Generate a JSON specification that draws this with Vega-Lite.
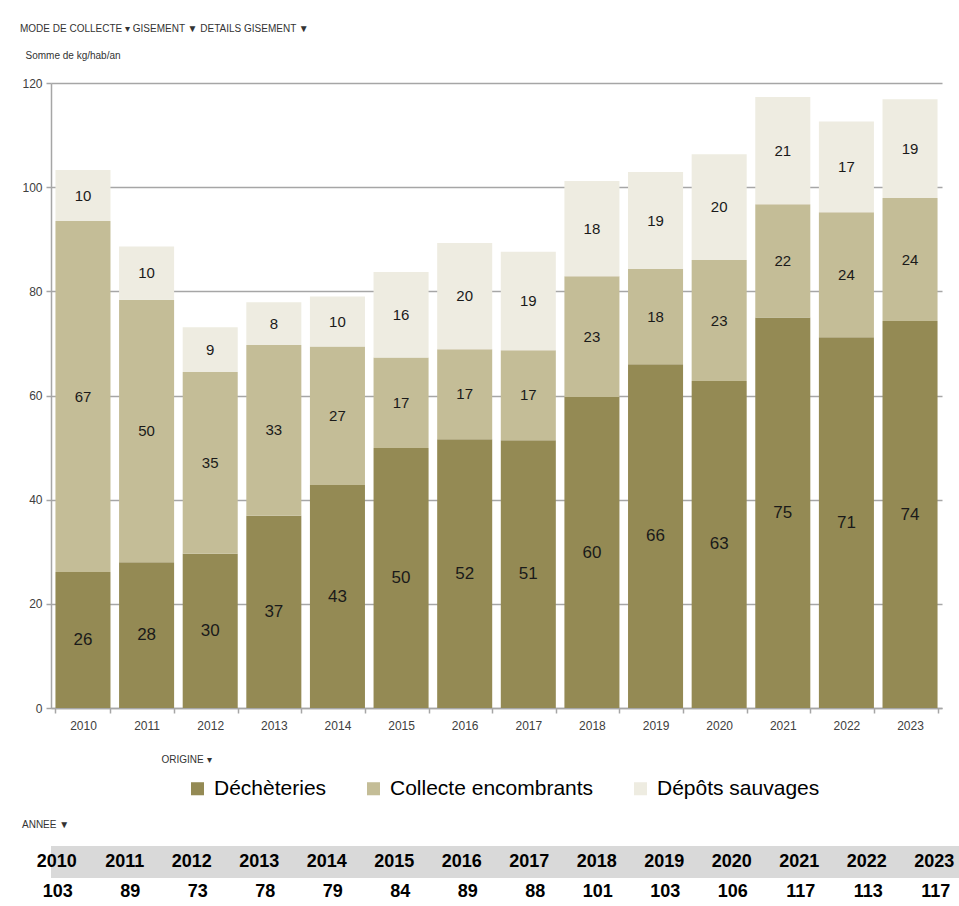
{
  "$schema": "https://vega.github.io/schema/vega-lite/v6.json",
  "padding": {"left": 20, "top": 24, "right": 0, "bottom": 0},
  "background": "white",
  "spacing": 56,
  "config": {
    "font": "Liberation Sans",
    "view": {"stroke": null},
    "title": {"font": "Liberation Sans", "fontWeight": "normal", "color": "#333333"}
  },
  "datasets": {
    "kg": [
      {"annee": "2010", "origine": "Déchèteries", "kg": 26.1},
      {"annee": "2010", "origine": "Collecte encombrants", "kg": 67.4},
      {"annee": "2010", "origine": "Dépôts sauvages", "kg": 9.8},
      {"annee": "2011", "origine": "Déchèteries", "kg": 28.0},
      {"annee": "2011", "origine": "Collecte encombrants", "kg": 50.4},
      {"annee": "2011", "origine": "Dépôts sauvages", "kg": 10.2},
      {"annee": "2012", "origine": "Déchèteries", "kg": 29.6},
      {"annee": "2012", "origine": "Collecte encombrants", "kg": 34.9},
      {"annee": "2012", "origine": "Dépôts sauvages", "kg": 8.6},
      {"annee": "2013", "origine": "Déchèteries", "kg": 36.9},
      {"annee": "2013", "origine": "Collecte encombrants", "kg": 32.8},
      {"annee": "2013", "origine": "Dépôts sauvages", "kg": 8.2},
      {"annee": "2014", "origine": "Déchèteries", "kg": 42.8},
      {"annee": "2014", "origine": "Collecte encombrants", "kg": 26.6},
      {"annee": "2014", "origine": "Dépôts sauvages", "kg": 9.6},
      {"annee": "2015", "origine": "Déchèteries", "kg": 49.9},
      {"annee": "2015", "origine": "Collecte encombrants", "kg": 17.4},
      {"annee": "2015", "origine": "Dépôts sauvages", "kg": 16.4},
      {"annee": "2016", "origine": "Déchèteries", "kg": 51.6},
      {"annee": "2016", "origine": "Collecte encombrants", "kg": 17.3},
      {"annee": "2016", "origine": "Dépôts sauvages", "kg": 20.4},
      {"annee": "2017", "origine": "Déchèteries", "kg": 51.4},
      {"annee": "2017", "origine": "Collecte encombrants", "kg": 17.3},
      {"annee": "2017", "origine": "Dépôts sauvages", "kg": 18.9},
      {"annee": "2018", "origine": "Déchèteries", "kg": 59.7},
      {"annee": "2018", "origine": "Collecte encombrants", "kg": 23.2},
      {"annee": "2018", "origine": "Dépôts sauvages", "kg": 18.3},
      {"annee": "2019", "origine": "Déchèteries", "kg": 66.0},
      {"annee": "2019", "origine": "Collecte encombrants", "kg": 18.3},
      {"annee": "2019", "origine": "Dépôts sauvages", "kg": 18.6},
      {"annee": "2020", "origine": "Déchèteries", "kg": 62.8},
      {"annee": "2020", "origine": "Collecte encombrants", "kg": 23.2},
      {"annee": "2020", "origine": "Dépôts sauvages", "kg": 20.3},
      {"annee": "2021", "origine": "Déchèteries", "kg": 75.0},
      {"annee": "2021", "origine": "Collecte encombrants", "kg": 21.7},
      {"annee": "2021", "origine": "Dépôts sauvages", "kg": 20.6},
      {"annee": "2022", "origine": "Déchèteries", "kg": 71.2},
      {"annee": "2022", "origine": "Collecte encombrants", "kg": 24.0},
      {"annee": "2022", "origine": "Dépôts sauvages", "kg": 17.4},
      {"annee": "2023", "origine": "Déchèteries", "kg": 74.3},
      {"annee": "2023", "origine": "Collecte encombrants", "kg": 23.6},
      {"annee": "2023", "origine": "Dépôts sauvages", "kg": 19.0}
    ],
    "origines": [
      {"origine": "Déchèteries", "rang": 1},
      {"origine": "Collecte encombrants", "rang": 2},
      {"origine": "Dépôts sauvages", "rang": 3}
    ]
  },
  "vconcat": [
    {
      "width": 891,
      "height": 625,
      "title": {"text": "MODE DE COLLECTE  ▾     GISEMENT  ▼    DETAILS GISEMENT  ▼", "anchor": "start", "frame": "group", "fontSize": 10, "dx": -31, "offset": 16},
      "data": {"name": "kg"},
      "transform": [
        {"lookup": "origine", "from": {"data": {"name": "origines"}, "key": "origine", "fields": ["rang"]}},
        {"stack": "kg", "groupby": ["annee"], "sort": [{"field": "rang", "order": "ascending"}], "as": ["bas", "haut"]}
      ],
      "encoding": {
        "x": {
          "field": "annee", "type": "nominal",
          "scale": {"paddingInner": 0.135, "paddingOuter": 0.07},
          "axis": {
            "title": "ORIGINE  ▾", "titleFontSize": 10, "titleFontWeight": "normal", "titleColor": "#333333",
            "titleAnchor": "start", "titleAlign": "left", "titleX": 110, "titleY": 46,
            "labelAngle": 0, "labelFontSize": 12, "labelColor": "#404040", "labelPadding": 7,
            "tickBand": "extent", "tickSize": 5, "tickColor": "#A6A6A6", "tickWidth": 1.5,
            "domainColor": "#A6A6A6", "domainWidth": 1.5
          }
        }
      },
      "layer": [
        {
          "mark": {"type": "bar"},
          "encoding": {
            "y": {
              "field": "bas", "type": "quantitative",
              "scale": {"domain": [0, 120], "nice": false},
              "axis": {
                "values": [0, 20, 40, 60, 80, 100, 120],
                "title": "Somme de kg/hab/an", "titleAngle": 0, "titleAlign": "left", "titleBaseline": "middle",
                "titleX": -26, "titleY": -28, "titleFontSize": 10, "titleFontWeight": "normal", "titleColor": "#333333",
                "labelFontSize": 12, "labelColor": "#404040", "labelPadding": 4,
                "grid": true, "gridColor": "#A6A6A6", "gridWidth": 1.5,
                "tickSize": 5, "tickColor": "#A6A6A6", "tickWidth": 1.5,
                "domainColor": "#A6A6A6", "domainWidth": 1.5
              }
            },
            "y2": {"field": "haut"},
            "color": {
              "field": "origine", "type": "nominal",
              "scale": {
                "domain": ["Déchèteries", "Collecte encombrants", "Dépôts sauvages"],
                "range": ["#948A54", "#C4BD97", "#EEECE1"]
              },
              "legend": {
                "orient": "none", "legendX": 136, "legendY": 695, "direction": "horizontal",
                "title": null, "symbolType": "square", "symbolSize": 170, "symbolStrokeWidth": 0,
                "labelFontSize": 21, "labelColor": "#000000", "labelLimit": 400,
                "columnPadding": 36, "labelOffset": 6
              }
            }
          }
        },
        {
          "transform": [{"fold": ["bas", "haut"], "as": ["bord", "pos"]}],
          "mark": {"type": "text", "color": "#1A1A1A"},
          "encoding": {
            "y": {"aggregate": "mean", "field": "pos", "type": "quantitative"},
            "text": {"field": "kg", "type": "quantitative", "format": ".0f"},
            "detail": {"field": "origine"},
            "size": {"condition": {"test": "datum.origine === 'Déchèteries'", "value": 17}, "value": 15}
          }
        }
      ]
    },
    {
      "spacing": 2,
      "vconcat": [
        {
          "width": 945,
          "height": 32,
          "view": {"fill": "#D9D9D9", "stroke": null},
          "title": {"text": "ANNEE  ▼", "anchor": "start", "frame": "group", "fontSize": 10, "offset": 16, "dx": -29},
          "data": {"name": "kg"},
          "transform": [{"aggregate": [{"op": "sum", "field": "kg", "as": "total"}], "groupby": ["annee"]}],
          "mark": {"type": "text", "align": "right", "baseline": "middle", "fontWeight": "bold", "fontSize": 18, "color": "#000000", "dx": -8},
          "encoding": {
            "x": {"field": "annee", "type": "nominal", "bandPosition": 1, "scale": {"paddingInner": 0, "paddingOuter": 0}, "axis": null},
            "text": {"field": "annee"}
          }
        },
        {
          "width": 945,
          "height": 24,
          "data": {"name": "kg"},
          "transform": [{"aggregate": [{"op": "sum", "field": "kg", "as": "total"}], "groupby": ["annee"]}],
          "mark": {"type": "text", "align": "right", "baseline": "middle", "fontWeight": "bold", "fontSize": 18, "color": "#000000", "dx": -12},
          "encoding": {
            "x": {"field": "annee", "type": "nominal", "bandPosition": 1, "scale": {"paddingInner": 0, "paddingOuter": 0}, "axis": null},
            "text": {"field": "total", "type": "quantitative", "format": ".0f"}
          }
        }
      ]
    }
  ]
}
